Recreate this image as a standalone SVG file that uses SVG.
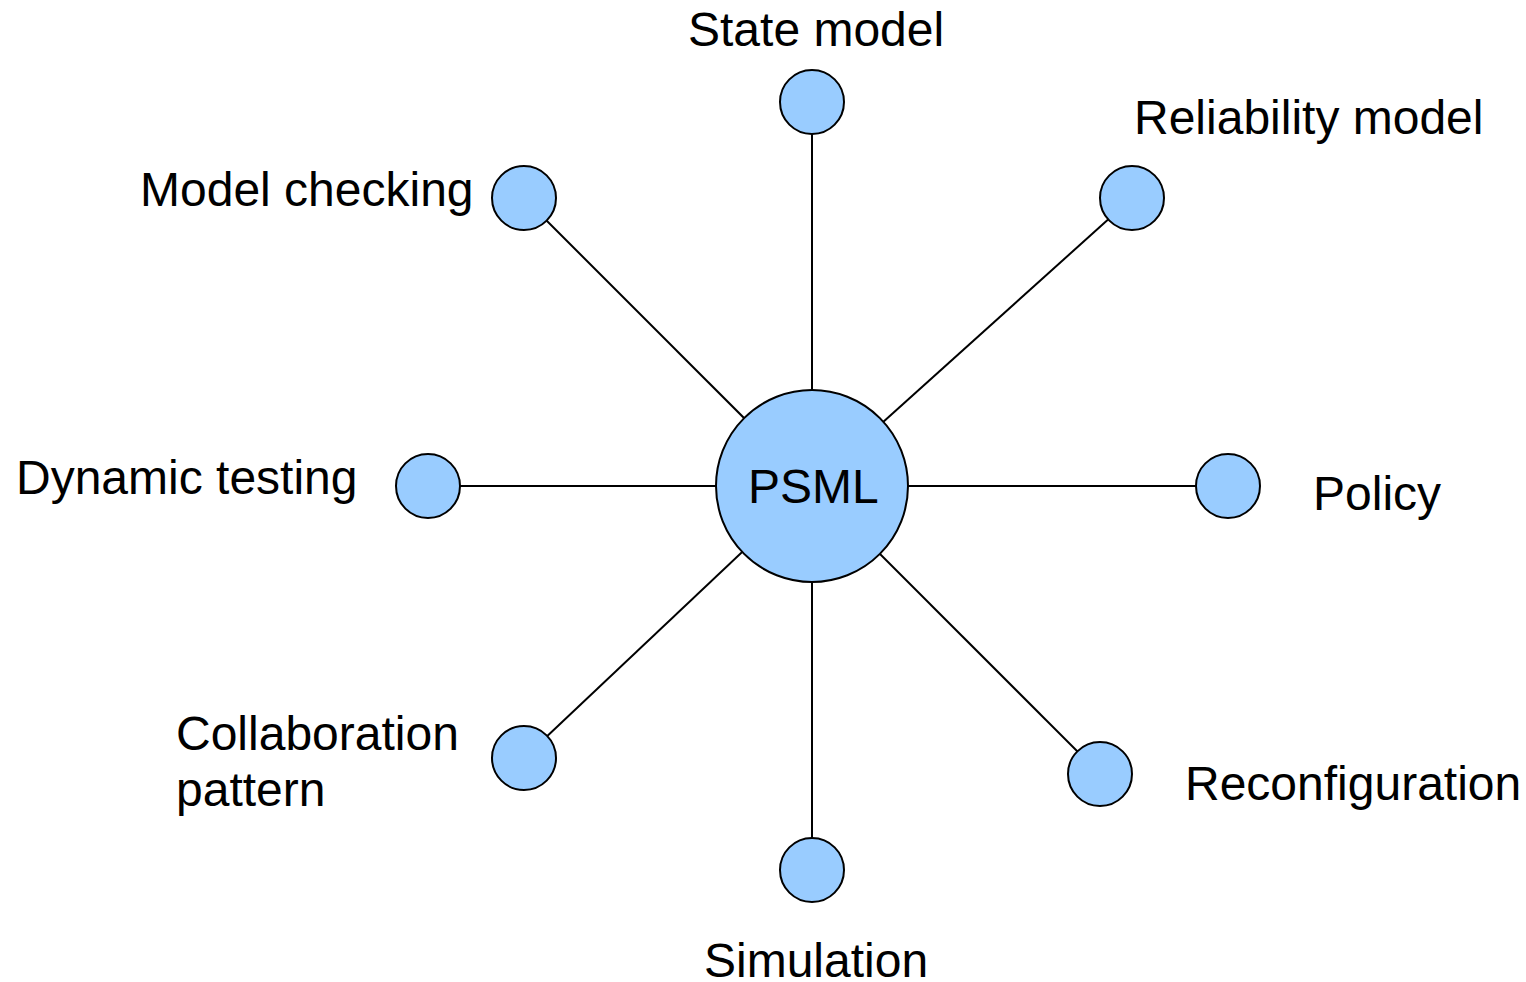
<svg xmlns="http://www.w3.org/2000/svg" width="1526" height="982" viewBox="0 0 1526 982">
  <style>
    .bg { fill: #ffffff; }
    .edge { stroke: #000000; stroke-width: 2; fill: none; }
    .hub { fill: #99ccff; stroke: #000000; stroke-width: 2; }
    .leaf { fill: #99ccff; stroke: #000000; stroke-width: 2; }
    .label { font-family: "Liberation Sans", Arial, sans-serif; font-size: 48px; fill: #000000; }
  </style>
  <rect class="bg" x="0" y="0" width="1526" height="982"/>

  <!-- spokes from the PSML hub to each satellite -->
  <g id="connectors">
    <line class="edge" x1="812" y1="486" x2="812" y2="102"/>
    <line class="edge" x1="812" y1="486" x2="524" y2="198"/>
    <line class="edge" x1="812" y1="486" x2="1132" y2="198"/>
    <line class="edge" x1="812" y1="486" x2="428" y2="486"/>
    <line class="edge" x1="812" y1="486" x2="1228" y2="486"/>
    <line class="edge" x1="812" y1="486" x2="524" y2="758"/>
    <line class="edge" x1="812" y1="486" x2="1100" y2="774"/>
    <line class="edge" x1="812" y1="486" x2="812" y2="870"/>
  </g>

  <g id="psml">
    <circle class="hub" cx="812" cy="486" r="96"/>
    <text class="label" x="748" y="503">PSML</text>
  </g>

  <g id="state-model">
    <circle class="leaf" cx="812" cy="102" r="32"/>
    <text class="label" x="688" y="46">State model</text>
  </g>

  <g id="model-checking">
    <circle class="leaf" cx="524" cy="198" r="32"/>
    <text class="label" x="140" y="206">Model checking</text>
  </g>

  <g id="reliability-model">
    <circle class="leaf" cx="1132" cy="198" r="32"/>
    <text class="label" x="1134" y="134">Reliability model</text>
  </g>

  <g id="dynamic-testing">
    <circle class="leaf" cx="428" cy="486" r="32"/>
    <text class="label" x="16" y="494">Dynamic testing</text>
  </g>

  <g id="policy">
    <circle class="leaf" cx="1228" cy="486" r="32"/>
    <text class="label" x="1313" y="510">Policy</text>
  </g>

  <g id="collaboration-pattern">
    <circle class="leaf" cx="524" cy="758" r="32"/>
    <text class="label" x="176" y="750">Collaboration</text>
    <text class="label" x="176" y="806">pattern</text>
  </g>

  <g id="reconfiguration">
    <circle class="leaf" cx="1100" cy="774" r="32"/>
    <text class="label" x="1185" y="800">Reconfiguration</text>
  </g>

  <g id="simulation">
    <circle class="leaf" cx="812" cy="870" r="32"/>
    <text class="label" x="704" y="977">Simulation</text>
  </g>
</svg>
